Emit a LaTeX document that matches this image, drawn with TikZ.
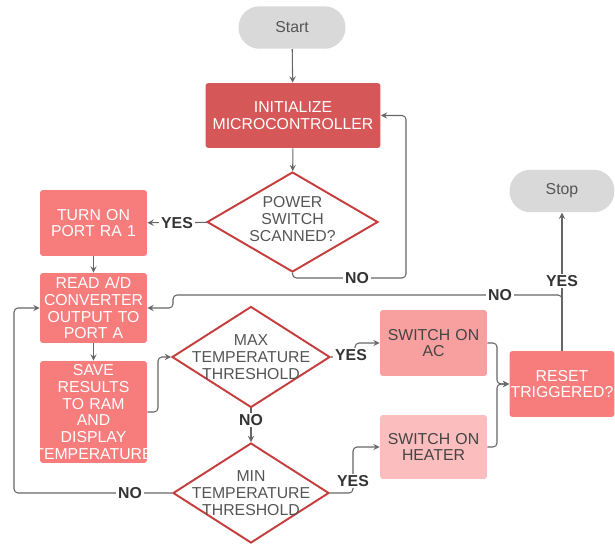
\documentclass[tikz,border=0pt]{standalone}
\usepackage{fontspec}
\setmainfont{Liberation Sans}
\usetikzlibrary{shapes.geometric}
\definecolor{pillgray}{HTML}{D9D9D9}
\definecolor{initred}{HTML}{D65757}
\definecolor{boxred}{HTML}{F77C7C}
\definecolor{acpink}{HTML}{F8A0A0}
\definecolor{heatpink}{HTML}{FBBDBD}
\definecolor{diared}{HTML}{C63D3D}
\definecolor{linegray}{HTML}{666666}
\definecolor{textgray}{HTML}{555555}
\definecolor{textdark}{HTML}{444444}
\tikzset{
  terminal/.style={fill=pillgray, rounded corners=0.42cm, minimum width=2.14cm,
    minimum height=0.85cm, text=textgray},
  process/.style={fill=boxred, rounded corners=0.06cm, text=white, align=center,
    text width=2.14cm, inner xsep=0pt, inner ysep=0pt},
  decision/.style={diamond, draw=diared, line width=1.1pt, fill=white, inner sep=0pt},
  dtext/.style={align=center, text=textgray},
  conn/.style={->, draw=linegray, line width=0.6pt},
  lbl/.style={fill=white, inner sep=1pt, text=black!80, font=\fontsize{9}{9.6}\selectfont\bfseries}
}
\begin{document}
\begin{tikzpicture}[x=0.02cm, y=-0.02cm, >=stealth, font=\fontsize{9}{9.6}\selectfont]
\useasboundingbox (0,0) rectangle (615,544);
% start and stop
\node[terminal] (start) at (292,27.5) {Start};
\node[terminal, minimum width=2.1cm] (stop) at (562,191) {Stop};
% process boxes
\node[process, fill=initred, text width=3.5cm, minimum height=1.3cm] (init) at (293,115.5) {INITIALIZE\\MICROCONTROLLER};
\node[process, minimum height=1.32cm] (turnon) at (93.5,223) {TURN ON\\PORT RA 1};
\node[process, minimum height=1.4cm] (read) at (93.5,308) {READ A/D\\CONVERTER\\OUTPUT TO\\PORT A};
\node[process, minimum height=2.04cm] (save) at (93.5,412) {SAVE\\RESULTS\\TO RAM\\AND\\DISPLAY\\\makebox[\linewidth]{TEMPERATURE}};
\node[process, fill=acpink, text=textdark, minimum height=1.32cm] (ac) at (433.5,343) {SWITCH ON\\AC};
\node[process, fill=heatpink, text=textdark, minimum height=1.28cm] (heater) at (433.5,447) {SWITCH ON\\HEATER};
\node[process, text width=2.1cm, minimum height=1.32cm] (reset) at (562,384) {RESET\\\makebox[\linewidth]{TRIGGERED?}};
% decisions
\node[decision, minimum width=3.42cm, minimum height=2cm] (power) at (292.5,222) {};
\node[dtext] (powertext) at (292.5,219) {POWER\\SWITCH\\SCANNED?};
\node[decision, minimum width=3.16cm, minimum height=2.02cm] (max) at (251,357) {};
\node[dtext] (maxtext) at (max) {MAX\\TEMPERATURE\\THRESHOLD};
\node[decision, minimum width=3.12cm, minimum height=2cm] (min) at (251,493) {};
\node[dtext] (mintext) at (min) {MIN\\TEMPERATURE\\THRESHOLD};

% connectors
\draw[conn] (start) -- (init);
\draw[conn] (init) -- (power);
\draw[conn] (power) -- (turnon);
\draw[conn, rounded corners=0.08cm] (power.south) |- (406,278) |- (init.east);
\draw[conn] (turnon) -- (read);
\draw[conn] (read) -- (save);
\draw[conn, rounded corners=0.08cm] (save.east) -- (158,412) |- (max.west);
\draw[conn, rounded corners=0.08cm] (max.east) -- (355,357) |- (ac.west);
\draw[conn] (max) -- (min);
\draw[conn, rounded corners=0.08cm] (min.east) -- (353,493) |- (heater.west);
\draw[conn, rounded corners=0.08cm] (min.west) -- (14,493) |- (read.west);
\draw[conn, rounded corners=0.08cm] (ac.east) -- (497,343) |- (reset.west);
\draw[conn, rounded corners=0.08cm] (heater.east) -- (497,447) |- (reset.west);
\draw[conn] (reset) -- (stop);
\draw[conn, rounded corners=0.08cm] (reset.north) |- (173,295) |- (read.east);

% labels
\node[lbl] (yesA) at (177,223) {YES};
\node[lbl] (noA) at (357,278) {NO};
\node[lbl] (yesB) at (351,355) {YES};
\node[lbl] (noB) at (251,420) {NO};
\node[lbl] (yesC) at (353,481) {YES};
\node[lbl] (noC) at (130,493) {NO};
\node[lbl] (yesD) at (562,281) {YES};
\node[lbl] (noD) at (500,295) {NO};
\end{tikzpicture}
\end{document}
